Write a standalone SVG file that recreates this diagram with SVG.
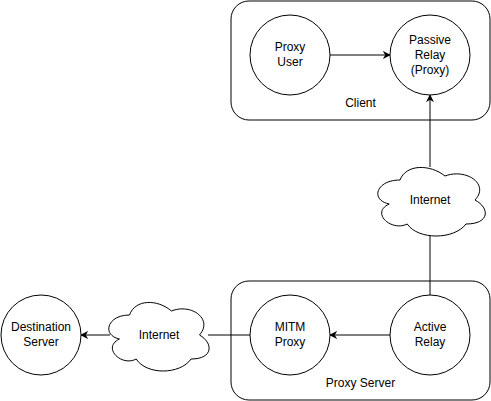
<svg xmlns="http://www.w3.org/2000/svg" width="491" height="401" viewBox="0 0 491 401">
<defs>
<marker id="arr" viewBox="0 0 10 10" refX="9" refY="5" markerWidth="8" markerHeight="8" markerUnits="userSpaceOnUse" orient="auto">
<path d="M0,0 L10,5 L0,10 L3,5 Z" fill="#000"/>
</marker>
</defs>
<style>
.box{fill:#fff;stroke:#000;stroke-width:1}
.node{fill:#fff;stroke:#000;stroke-width:1}
.t{font-family:"Liberation Sans",Arial,sans-serif;font-size:12px;fill:#000;text-anchor:middle}
.e{fill:none;stroke:#000;stroke-width:1}
</style>
<g id="client"><rect class="box" x="231" y="1" width="259" height="119" rx="18" ry="18"/><text class="t" x="360.5" y="107">Client</text></g>
<g id="proxy-server"><rect class="box" x="231" y="281" width="259" height="119" rx="18" ry="18"/><text class="t" x="360.5" y="387">Proxy Server</text></g>
<g id="edges">
<line class="e" x1="330" y1="55" x2="390" y2="55" marker-end="url(#arr)"/>
<line class="e" x1="430" y1="167" x2="430" y2="95" marker-end="url(#arr)"/>
<line class="e" x1="430" y1="295" x2="430" y2="236"/>
<line class="e" x1="390" y1="335" x2="330" y2="335" marker-end="url(#arr)"/>
<line class="e" x1="250" y1="335" x2="208" y2="335"/>
<line class="e" x1="110" y1="335" x2="81" y2="335" marker-end="url(#arr)"/>
</g>
<g id="proxy-user"><circle class="node" cx="290" cy="55" r="40"/><text class="t" x="290" y="51">Proxy</text><text class="t" x="290" y="66">User</text></g>
<g id="passive-relay"><circle class="node" cx="430" cy="55" r="40"/><text class="t" x="430" y="44">Passive</text><text class="t" x="430" y="59">Relay</text><text class="t" x="430" y="74">(Proxy)</text></g>
<g id="internet-top"><path class="node" transform="translate(370,160)" d="M30,20 C6,20 0,40 19.2,44 C0,52.8 21.6,72 37.2,64 C48,80 84,80 96,64 C120,64 120,48 105,40 C120,24 96,8 75,16 C60,4 36,4 30,20 Z"/><text class="t" x="430" y="204">Internet</text></g>
<g id="internet-bottom"><path class="node" transform="translate(101.5,295)" d="M28,20 C5.6,20 0,40 17.9,44 C0,52.8 20.2,72 34.7,64 C44.8,80 78.4,80 89.6,64 C112,64 112,48 98,40 C112,24 89.6,8 70,16 C56,4 33.6,4 28,20 Z"/><text class="t" x="159" y="339">Internet</text></g>
<g id="mitm-proxy"><circle class="node" cx="290" cy="335" r="40"/><text class="t" x="290" y="331">MITM</text><text class="t" x="290" y="346">Proxy</text></g>
<g id="active-relay"><circle class="node" cx="430" cy="335" r="40"/><text class="t" x="430" y="331">Active</text><text class="t" x="430" y="346">Relay</text></g>
<g id="destination-server"><circle class="node" cx="41" cy="335" r="40"/><text class="t" x="41" y="331">Destination</text><text class="t" x="41" y="346">Server</text></g>
</svg>
